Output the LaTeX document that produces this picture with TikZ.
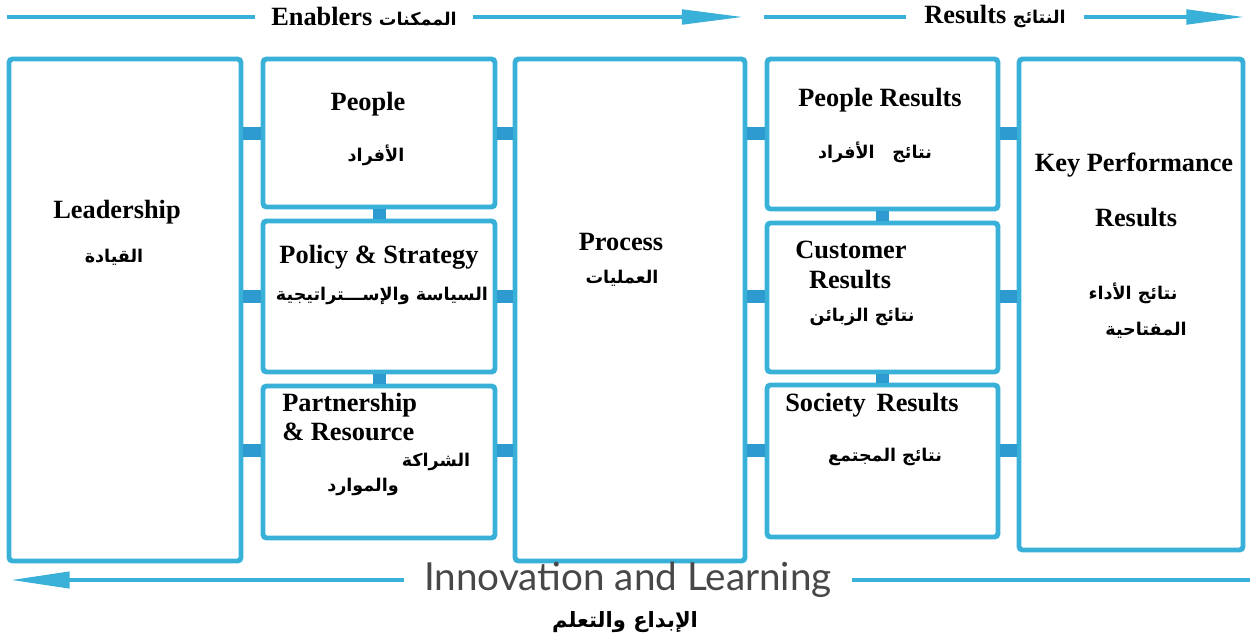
\documentclass[tikz,border=0pt]{standalone}
\usepackage{fontspec}
\setmainfont{Liberation Serif}
\newfontfamily\arabicfont[Script=Arabic]{DejaVu Sans}
\newfontfamily\innofont{Lato}
\TeXXeTstate=1
\usetikzlibrary{arrows.meta,calc,fit}
\definecolor{efqmblue}{HTML}{38B0D8}
\definecolor{linkblue}{HTML}{2E9BD0}
\newcommand\artext[1]{{\arabicfont\beginR #1\endR}}
\newcommand\smallar[1]{{\fontsize{10}{12}\selectfont\artext{#1}}}
\tikzset{
	box/.style={draw=efqmblue, line width=2.8pt, rounded corners=2pt, fill=white, inner sep=0pt},
	link/.style={draw=linkblue, line width=7.4pt},
	bar/.style={draw=efqmblue, line width=2.8pt},
	title/.style={font=\fontsize{15}{18}\selectfont\bfseries, inner sep=0pt},
	arab/.style={font=\fontsize{10}{12}\selectfont\bfseries, inner sep=0pt},
	inno/.style={font=\innofont\fontsize{22}{26}\selectfont, text=black!72, inner xsep=11pt, inner ysep=0pt},
}

\begin{document}
\begin{tikzpicture}[x=0.02cm, y=-0.02cm]
			%%%%% START %%%%%
			\useasboundingbox (0,0) rectangle (1250,639);
			
			% top bar
			\coordinate (enL) at (7,17);
			\coordinate (enR) at (745,17);
			\coordinate (resL) at (764,17);
			\coordinate (resR) at (1246,17);
			\node[title, inner xsep=9pt] (enab) at (364,17) {Enablers \smallar{الممكنات}};
			\node[title, inner xsep=10pt] (resu) at (995,17) {Results \smallar{النتائج}};
			\draw[bar] (enL) -- (enab.west);
			\draw[bar, -{Triangle[length=36pt, width=8pt]}] (enab.east) -- (enR);
			\draw[bar] (resL) -- (resu.west);
			\draw[bar, -{Triangle[length=34pt, width=8pt]}] (resu.east) -- (resR);
			
			% boxes
			\node[box, fit={(9,59) (241,561)}] (lead) {};
			\node[box, fit={(263,59) (495,207)}] (people) {};
			\node[box, fit={(263,221) (495,372)}] (policy) {};
			\node[box, fit={(263,386) (495,538)}] (partner) {};
			\node[box, fit={(515,59) (745,561)}] (process) {};
			\node[box, fit={(767,59) (998,209)}] (peopleres) {};
			\node[box, fit={(767,223) (998,372)}] (custres) {};
			\node[box, fit={(767,385) (998,537)}] (socres) {};
			\node[box, fit={(1019,59) (1243,550)}] (kpr) {};
			
			% links
			\coordinate (prow) at ($(partner.west)+(0,-12)$);
			\coordinate (srow) at ($(socres.west)+(0,-11)$);
			\draw[link] (lead.east |- people) -- (people.west);
			\draw[link] (lead.east |- policy) -- (policy.west);
			\draw[link] (lead.east |- prow) -- (prow);
			\draw[link] (people.east) -- (process.west |- people);
			\draw[link] (policy.east) -- (process.west |- policy);
			\draw[link] (partner.east |- prow) -- (process.west |- prow);
			\draw[link] (process.east |- people) -- (peopleres.west |- people);
			\draw[link] (process.east |- policy) -- (custres.west |- policy);
			\draw[link] (process.east |- srow) -- (srow);
			\draw[link] (peopleres.east |- people) -- (kpr.west |- people);
			\draw[link] (custres.east |- policy) -- (kpr.west |- policy);
			\draw[link] (socres.east |- srow) -- (kpr.west |- srow);
			\draw[link] (people.south) -- (policy.north);
			\draw[link] (policy.south) -- (partner.north);
			\draw[link] (peopleres.south) -- (custres.north);
			\draw[link] (custres.south) -- (socres.north);
			
			% texts
			\node[title] (leadT) at (117,212) {Leadership};
			\node[arab] (leadA) at (114,257) {\artext{القيادة}};
			\node[title] (peopleT) at (368,104) {People};
			\node[arab] (peopleA) at (376,155) {\artext{الأفراد}};
			\node[title] (policyT) at (379,257) {Policy \& Strategy};
			\node[arab] (policyA) at (382,296) {\artext{السياسة والإســـتراتيجية}};
			\node[title, anchor=west] (partnerT) at (282,405) {Partnership};
			\node[title, anchor=west] (partnerU) at (282,432) {\& Resource};
			\node[arab] (partnerA) at (436,462) {\artext{الشراكة}};
			\node[arab] (partnerB) at (363,487) {\artext{والموارد}};
			\node[title] (processT) at (621,242) {Process};
			\node[arab] (processA) at (622,278) {\artext{العمليات}};
			\node[title] (peopleresT) at (880,100) {People Results};
			\node[arab] (peopleresA) at (875,152) {\artext{نتائج\quad الأفراد}};
			\node[title] (custresT) at (851,250) {Customer};
			\node[title] (custresU) at (850,280) {Results};
			\node[arab] (custresA) at (862,317) {\artext{نتائج الزبائن}};
			\node[title] (socresT) at (872,405) {Society\, Results};
			\node[arab] (socresA) at (885,457) {\artext{نتائج المجتمع}};
			\node[title] (kprT) at (1134,165) {Key Performance};
			\node[title] (kprU) at (1136,218) {Results};
			\node[arab] (kprA) at (1133,293) {\artext{نتائج الأداء}};
			\node[arab] (kprB) at (1146,330) {\artext{المفتاحية}};
			
			% bottom bar
			\coordinate (innoL) at (10,580);
			\coordinate (innoR) at (1250,580);
			\node[inno] (inno) at (628,580) {Innovation and Learning};
			\draw[bar, -{Triangle[length=34pt, width=9pt]}] (inno.west) -- (innoL);
			\draw[bar] (innoR) -- (inno.east);
			\node[arab, font=\fontsize{12}{14}\selectfont\bfseries] (innoA) at (625,622) {\artext{الإبداع والتعلم}};
			
			%%%%% END %%%%%
\end{tikzpicture}
\end{document}
